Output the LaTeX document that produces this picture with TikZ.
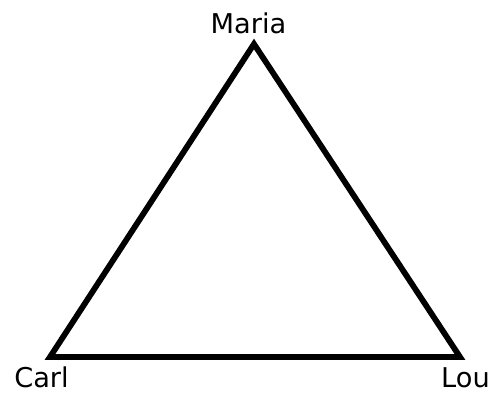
\documentclass[tikz,border=0pt]{standalone}
\usepackage{fontspec}
\setmainfont{DejaVu Sans}
\begin{document}
\begin{tikzpicture}
        \useasboundingbox (0, 0) rectangle (9.86, 7.84);
        \tikzset{person/.style={font=\fontsize{15.5}{18}\selectfont, inner sep=0pt}}

        % Sommets du triangle
        \coordinate (top) at (5.08, 6.96);
        \coordinate (left) at (1.0, 0.70);
        \coordinate (right) at (9.2, 0.70);

        % Noms
        \node [person] (maria) at (4.97, 7.37) {Maria};
        \node [person] (carl) at (0.83, 0.29) {Carl};
        \node [person] (lou) at (9.31, 0.29) {Lou};

        % Triangle
        \draw [line width=3.3pt, line join=miter] (top) -- (right) -- (left) -- cycle;
    \end{tikzpicture}
\end{document}
